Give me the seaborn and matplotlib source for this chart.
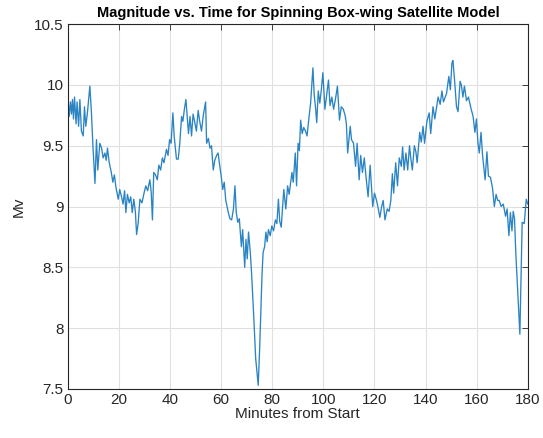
import matplotlib
matplotlib.use("Agg")
import matplotlib.pyplot as plt
import seaborn as sns
import pandas as pd

minutes = [
    0.0, 0.5, 1.0, 1.4, 1.8, 2.2, 2.6, 3.2, 3.6, 4.2, 4.7, 5.3, 6.0, 6.5, 7.0, 7.6,
    8.6, 9.2, 9.8, 10.6, 11.2, 11.7, 12.5, 13.2, 13.8, 14.5, 15.0, 15.5, 16.2, 17.0,
    17.6, 18.2, 18.8, 19.7, 20.3, 21.0, 21.6, 22.2, 22.7, 23.3, 24.0, 24.6, 25.2,
    25.8, 26.4, 26.9, 27.5, 28.2, 29.0, 29.8, 30.5, 31.2, 32.1, 32.6, 33.1, 33.6,
    34.3, 35.0, 35.6, 36.3, 37.0, 37.6, 38.6, 39.2, 39.8, 40.4, 41.1, 41.6, 42.5,
    43.2, 43.8, 44.5, 45.0, 45.6, 46.2, 46.7, 47.2, 47.8, 48.4, 49.0, 49.6, 50.3,
    51.0, 51.6, 52.3, 53.0, 53.9, 54.3, 55.0, 55.6, 56.2, 56.9, 57.5, 58.2, 58.8,
    59.4, 60.0, 60.6, 61.2, 61.8, 62.8, 63.4, 64.1, 64.8, 65.4, 65.9, 66.5, 67.1,
    67.9, 68.4, 69.2, 69.7, 70.2, 70.7, 71.4, 71.9, 72.8, 73.5, 74.5, 75.0, 75.4,
    76.0, 76.4, 77.0, 77.5, 78.0, 78.5, 79.2, 79.8, 80.5, 81.2, 81.8, 82.4, 82.9,
    83.5, 84.5, 85.3, 86.0, 86.6, 87.7, 88.2, 89.0, 89.5, 90.1, 90.6, 91.1, 91.7,
    92.3, 93.0, 93.6, 94.2, 95.0, 95.9, 96.4, 96.9, 97.4, 98.0, 98.6, 99.2, 99.8,
    100.6, 101.3, 102.0, 102.6, 103.3, 104.0, 104.7, 105.5, 106.3, 107.0, 107.8,
    108.5, 109.0, 109.5, 110.5, 111.0, 111.8, 112.6, 113.2, 114.0, 114.6, 115.3,
    116.0, 116.8, 117.5, 118.3, 119.3, 120.0, 120.8, 121.5, 122.1, 122.8, 123.4,
    124.1, 125.0, 125.7, 126.4, 127.0, 127.5, 128.3, 129.0, 129.7, 130.5, 131.0,
    131.6, 132.3, 133.0, 133.7, 134.2, 134.8, 135.6, 136.2, 136.7, 137.7, 138.3,
    139.0, 139.6, 140.5, 141.4, 142.0, 142.9, 143.6, 144.9, 145.7, 146.4, 147.0,
    148.2, 149.1, 149.7, 150.3, 150.7, 151.3, 152.1, 152.7, 153.5, 154.0, 154.6,
    155.2, 156.0, 156.8, 157.6, 158.6, 159.3, 159.9, 160.5, 161.0, 161.7, 162.3,
    163.3, 164.0, 164.6, 165.4, 166.2, 166.9, 167.6, 168.2, 168.8, 169.6, 170.4,
    171.3, 171.9, 172.6, 173.2, 173.8, 174.3, 174.8, 175.3, 176.9, 177.8, 178.6,
    179.4, 180.0,
]

mv = [
    9.90, 9.74, 9.86, 9.76, 9.88, 9.72, 9.90, 9.68, 9.86, 9.66, 9.88, 9.62, 9.58, 9.82, 9.66, 9.76,
    9.99, 9.78, 9.50, 9.19, 9.55, 9.30, 9.52, 9.48, 9.40, 9.44, 9.38, 9.48, 9.36, 9.28,
    9.20, 9.26, 9.16, 9.06, 9.14, 9.08, 9.02, 9.13, 8.95, 9.10, 9.03, 9.08, 8.95,
    9.06, 8.96, 8.77, 8.86, 9.06, 9.03, 9.11, 9.17, 9.13, 9.22, 9.12, 8.89, 9.28,
    9.26, 9.22, 9.34, 9.30, 9.40, 9.36, 9.47, 9.42, 9.55, 9.52, 9.77, 9.58, 9.39,
    9.39, 9.52, 9.74, 9.70, 9.80, 9.88, 9.74, 9.60, 9.74, 9.58, 9.76, 9.70, 9.62,
    9.79, 9.70, 9.62, 9.75, 9.86, 9.52, 9.56, 9.48, 9.50, 9.30, 9.38, 9.42, 9.44,
    9.34, 9.25, 9.14, 9.20, 9.05, 8.95, 8.90, 8.89, 8.98, 9.17, 8.95, 8.87, 8.90,
    8.67, 8.81, 8.50, 8.73, 8.57, 8.79, 8.62, 8.45, 8.07, 7.75, 7.53, 7.80, 8.07,
    8.45, 8.62, 8.67, 8.79, 8.71, 8.81, 8.76, 8.84, 8.80, 8.89, 8.86, 9.06, 8.88,
    8.83, 9.14, 8.98, 9.17, 9.10, 9.28, 9.20, 9.44, 9.17, 9.52, 9.46, 9.71, 9.60,
    9.65, 9.62, 9.58, 9.70, 9.85, 10.14, 9.92, 9.82, 9.69, 9.95, 9.85, 9.96, 10.10,
    9.80, 9.92, 10.04, 9.83, 9.90, 9.80, 9.88, 9.99, 9.71, 9.82, 9.80,
    9.75, 9.68, 9.44, 9.66, 9.55, 9.52, 9.33, 9.52, 9.22, 9.42, 9.28,
    9.40, 9.22, 9.08, 9.34, 9.00, 9.11, 9.05, 8.98, 8.91, 9.00, 9.05,
    8.89, 8.98, 8.96, 9.05, 9.27, 9.11, 9.36, 9.17, 9.40, 9.33, 9.49,
    9.30, 9.44, 9.30, 9.50, 9.40, 9.30, 9.50, 9.45, 9.36, 9.61, 9.53,
    9.66, 9.52, 9.70, 9.77, 9.60, 9.82, 9.72, 9.90, 9.84, 9.95, 9.86,
    9.93, 10.07, 9.96, 10.18, 10.20, 10.05, 9.82, 9.78, 10.03, 10.00, 9.90,
    9.99, 9.87, 9.90, 9.82, 9.74, 9.61, 9.72, 9.52, 9.44, 9.61, 9.42,
    9.22, 9.45, 9.25, 9.24, 9.15, 9.00, 9.10, 9.05, 9.05, 9.00, 9.02,
    8.92, 8.98, 8.76, 8.95, 8.80, 8.96, 8.90, 8.62, 7.95, 8.87, 8.86,
    9.06, 9.02,
]

x_ticks = [0, 20, 40, 60, 80, 100, 120, 140, 160, 180]
y_ticks = [7.5, 8, 8.5, 9, 9.5, 10, 10.5]
y_tick_labels = ["7.5", "8", "8.5", "9", "9.5", "10", "10.5"]

df = pd.DataFrame({"Minutes from Start": minutes, "Mv": mv})

sns.set_theme(style="white")
plt.rcParams["font.family"] = ["Liberation Sans", "DejaVu Sans"]

fig = plt.figure(figsize=(5.43, 4.38), dpi=100)
ax = fig.add_axes([0.125, 0.112, 0.847, 0.833])

sns.lineplot(data=df, x="Minutes from Start", y="Mv", ax=ax,
             color="#2a84c4", linewidth=0.95, estimator=None, sort=False)

ax.set_xlim(0, 180)
ax.set_ylim(7.5, 10.5)
ax.set_xticks(x_ticks)
ax.set_yticks(y_ticks)
ax.set_yticklabels(y_tick_labels)
ax.grid(True, color="#e0e0e0", linewidth=0.8)
ax.set_axisbelow(True)
for s in ax.spines.values():
    s.set_color("#262626")
    s.set_linewidth(0.8)
    s.set_visible(True)
ax.tick_params(direction="in", length=4, width=0.6, colors="#262626",
               labelsize=11, top=True, right=True, labeltop=False, labelright=False,
               labelcolor="#262626", pad=3)
ax.set_xlabel("Minutes from Start", fontsize=11, color="#262626", labelpad=0)
ax.set_ylabel("Mv", fontsize=11, color="#262626", labelpad=6)
ax.set_title("Magnitude vs. Time for Spinning Box-wing Satellite Model",
             fontsize=10.5, fontweight="bold", color="black", pad=5)

fig.savefig("out.png", dpi=100)
